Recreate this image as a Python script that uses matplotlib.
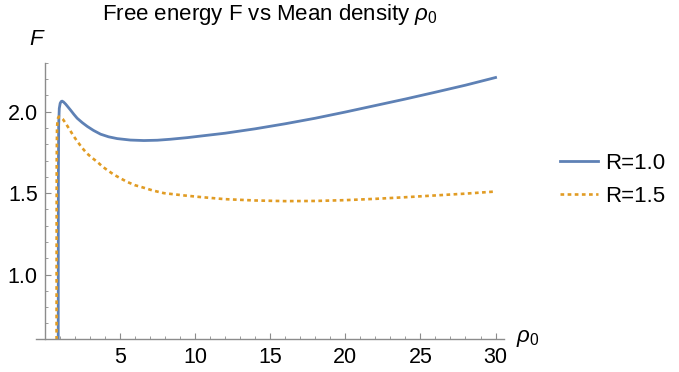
import matplotlib
matplotlib.use("Agg")
import matplotlib.pyplot as plt
from matplotlib.ticker import MultipleLocator, FixedLocator, FormatStrFormatter

plt.rcParams['font.family'] = ['Liberation Sans', 'DejaVu Sans']
plt.rcParams['mathtext.fontset'] = 'custom'
plt.rcParams['mathtext.it'] = 'Liberation Sans:italic'
plt.rcParams['mathtext.rm'] = 'Liberation Sans'

# free energy samples, R = 1.0
rho_r1 = [0.90, 0.905, 0.91, 0.93, 0.97, 1.03, 1.10, 1.16, 1.25, 1.40, 1.72,
          1.94, 2.16, 2.50, 2.83, 3.25, 3.72, 4.25, 4.82, 5.70, 6.60, 7.50,
          8.37, 9.50, 10.6, 12.0, 14.0, 16.0, 18.0, 20.0, 22.0, 24.0, 26.0,
          28.0, 30.0]
F_r1 = [0.60, 1.20, 1.60, 1.92, 2.02, 2.052, 2.063, 2.065, 2.060, 2.046, 2.010,
        1.984, 1.960, 1.933, 1.910, 1.885, 1.862, 1.846, 1.835, 1.826, 1.823, 1.825,
        1.831, 1.841, 1.853, 1.868, 1.895, 1.926, 1.960, 1.998, 2.038, 2.078, 2.120,
        2.163, 2.210]

# free energy samples, R = 1.5
rho_r15 = [0.79, 0.795, 0.80, 0.82, 0.86, 0.94, 1.05, 1.20, 1.39, 1.94, 2.20,
           2.50, 2.80, 3.16, 3.50, 3.82, 4.20, 4.60, 5.00, 5.49, 6.00, 6.60,
           7.20, 7.93, 9.26, 10.37, 12.0, 14.0, 16.0, 18.0, 20.0, 22.0, 24.0,
           26.0, 28.0, 30.0]
F_r15 = [0.60, 1.30, 1.70, 1.90, 1.955, 1.970, 1.967, 1.955, 1.930, 1.848, 1.814,
         1.777, 1.745, 1.716, 1.692, 1.665, 1.639, 1.614, 1.593, 1.569, 1.549, 1.533,
         1.516, 1.500, 1.486, 1.476, 1.463, 1.455, 1.451, 1.452, 1.457, 1.465, 1.475,
         1.486, 1.497, 1.510]

labels = ["R=1.0", "R=1.5"]
blue = "#5E81B5"
orange = "#E19C24"
axis_grey = "#8c8c8c"

fig = plt.figure(figsize=(6.79, 3.72), dpi=100)
ax = fig.add_axes([0.053, 0.089, 0.689, 0.742])

ax.plot(rho_r1, F_r1, color=blue, lw=2.0, label=labels[0])
ax.plot(rho_r15, F_r15, color=orange, lw=1.9, linestyle=(0, (1.4, 1.3)),
        label=labels[1])

ax.set_xlim(-0.58, 30.55)
ax.set_ylim(0.605, 2.30)

# axes crossing the way Mathematica draws them
for side in ("top", "right"):
    ax.spines[side].set_visible(False)
ax.spines["left"].set_position(("data", 0))
for side in ("left", "bottom"):
    ax.spines[side].set_color(axis_grey)
    ax.spines[side].set_linewidth(1.0)

ax.xaxis.set_major_locator(FixedLocator([5, 10, 15, 20, 25, 30]))
ax.xaxis.set_minor_locator(MultipleLocator(1))
ax.yaxis.set_major_locator(FixedLocator([1.0, 1.5, 2.0]))
ax.yaxis.set_minor_locator(MultipleLocator(0.1))
ax.xaxis.set_major_formatter(FormatStrFormatter('%d'))
ax.yaxis.set_major_formatter(FormatStrFormatter('%.1f'))

ax.tick_params(axis='both', which='major', direction='in', length=4, width=0.8,
               color=axis_grey, labelsize=15.5)
ax.tick_params(axis='both', which='minor', direction='in', length=2.5, width=0.6,
               color=axis_grey)
ax.tick_params(axis='x', which='major', pad=6)
ax.tick_params(axis='y', which='major', pad=5)

ax.set_title(r"Free energy F vs Mean density $\rho_0$", fontsize=16, pad=31)
ax.annotate(r"$F$", xy=(0, 1), xycoords='axes fraction', xytext=(1, 9),
            textcoords='offset points', fontsize=16, ha='center', va='bottom')
ax.annotate(r"$\rho_0$", xy=(1, 0), xycoords='axes fraction', xytext=(9, 0),
            textcoords='offset points', fontsize=16, ha='left', va='center')

leg = ax.legend(loc='center left', bbox_to_anchor=(560 / 679, 0.516),
                bbox_transform=fig.transFigure, frameon=False, borderpad=0,
                borderaxespad=0, fontsize=16, handlelength=1.7,
                handletextpad=0.35, labelspacing=0.55)

fig.savefig("out.png", dpi=100)
